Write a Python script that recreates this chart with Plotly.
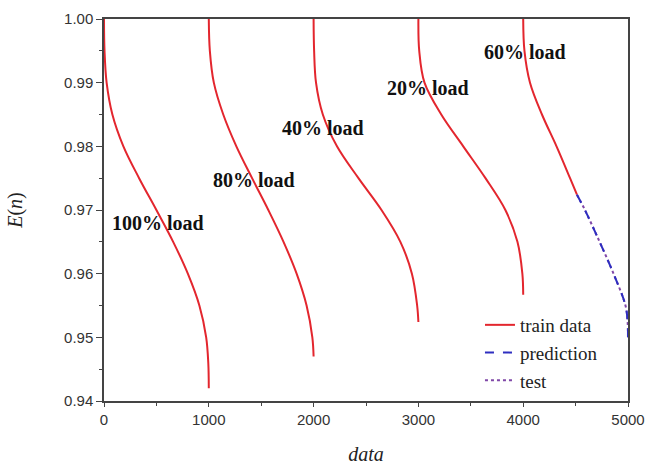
import plotly.graph_objects as go

# ---- data (E(n) levels vs data index) ----
c100_x = [0, 5, 25, 80, 185, 335, 500, 660, 800, 910, 975, 995, 1000]
c100_y = [1.000, 0.995, 0.990, 0.985, 0.980, 0.975, 0.970, 0.965, 0.960, 0.955, 0.950, 0.946, 0.942]

c80_x = [1000, 1010, 1048, 1138, 1263, 1413, 1568, 1713, 1838, 1933, 1988, 2000]
c80_y = [1.000, 0.995, 0.990, 0.985, 0.980, 0.975, 0.970, 0.965, 0.960, 0.955, 0.950, 0.947]

c40_x = [2000, 2005, 2023, 2088, 2223, 2428, 2648, 2828, 2938, 2988, 3000]
c40_y = [1.000, 0.995, 0.990, 0.985, 0.980, 0.975, 0.970, 0.965, 0.960, 0.955, 0.9524]

c20_x = [3000, 3008, 3058, 3218, 3428, 3640, 3830, 3945, 3992, 4000]
c20_y = [1.000, 0.995, 0.990, 0.985, 0.980, 0.975, 0.970, 0.965, 0.960, 0.9567]

c60_x = [4000, 4012, 4065, 4179, 4318, 4447, 4513]
c60_y = [1.000, 0.995, 0.990, 0.985, 0.980, 0.975, 0.9724]

pred_x = [4513, 4589, 4729, 4862, 4976, 4996, 5000]
pred_y = [0.9724, 0.970, 0.965, 0.960, 0.955, 0.9525, 0.950]

test_x = [4513, 4589, 4729, 4862, 4976, 4996, 5000]
test_y = [0.9724, 0.970, 0.965, 0.960, 0.955, 0.9525, 0.950]

labels = ["100% load", "80% load", "40% load", "20% load", "60% load"]
label_x = [515, 1431, 2090, 3092, 4017]
label_y = [0.9680, 0.9747, 0.9829, 0.9892, 0.9948]

RED = "#E3262E"
BLUE = "#2E2EC0"
PURPLE = "#8048A8"

fig = go.Figure()
curves = [(c100_x, c100_y), (c80_x, c80_y), (c40_x, c40_y), (c20_x, c20_y), (c60_x, c60_y)]
for i, (cx, cy) in enumerate(curves):
    fig.add_trace(go.Scatter(
        x=cx, y=cy, mode="lines",
        line=dict(color=RED, width=2, shape="spline", smoothing=1.0),
        name="train data", legendgroup="train", legendrank=1, showlegend=(i == 0)))

fig.add_trace(go.Scatter(
    x=test_x, y=test_y, mode="lines", name="test", legendrank=3,
    line=dict(color=PURPLE, width=2, dash="dot", shape="spline", smoothing=1.0)))
fig.add_trace(go.Scatter(
    x=pred_x, y=pred_y, mode="lines", name="prediction", legendrank=2,
    line=dict(color=BLUE, width=2, dash="dash", shape="spline", smoothing=1.0)))

for t, lx, ly in zip(labels, label_x, label_y):
    fig.add_annotation(x=lx, y=ly, text="<b>%s</b>" % t, showarrow=False,
                       font=dict(family="Liberation Serif", size=20, color="#111"))

axis_common = dict(showline=True, linecolor="#444", linewidth=1.5, mirror=True,
                   showgrid=False, zeroline=False, automargin=False,
                   tickfont=dict(family="Liberation Sans", size=15, color="#333"),
                   tickcolor="#444", tickwidth=1.2)

fig.update_xaxes(range=[0, 5000], dtick=1000, tick0=0, ticks="outside", ticklen=4,
                 minor=dict(dtick=500, ticks="outside", ticklen=3, tickcolor="#444"),
                 title=dict(text="<i>data</i>", standoff=29,
                            font=dict(family="Liberation Serif", size=20, color="#222")),
                 **axis_common)
fig.update_yaxes(range=[0.94, 1.00], dtick=0.01, tick0=0.94, tickformat=".2f",
                 ticks="outside", ticklen=6,
                 minor=dict(dtick=0.005, ticks="outside", ticklen=3, tickcolor="#444"),
                 title=dict(text="<i>E</i>(<i>n</i>)", standoff=36,
                            font=dict(family="Liberation Serif", size=20, color="#222")),
                 **axis_common)

fig.update_layout(
    width=648, height=465,
    margin=dict(l=104, r=20, t=19, b=64),
    paper_bgcolor="white", plot_bgcolor="white",
    legend=dict(x=0.7175, y=0.2487, xanchor="left", yanchor="top",
                bgcolor="rgba(0,0,0,0)", traceorder="normal",
                font=dict(family="Liberation Serif", size=19, color="#222")),
)

# remove the page's default 8px body margin so the figure fills the window exactly
fig.write_html("out.html", config={"displayModeBar": False},
               post_script="document.body.style.margin='0px';")
